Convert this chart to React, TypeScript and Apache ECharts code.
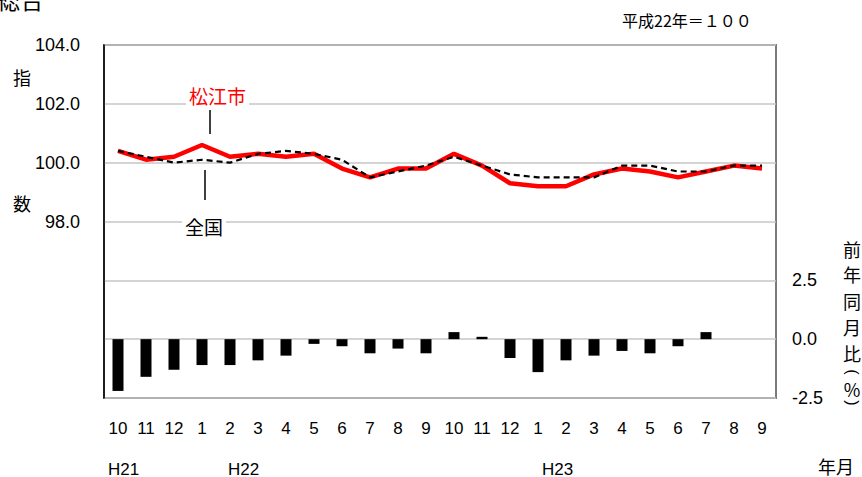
import React, { useEffect, useRef } from "react";
import * as echarts from "echarts";

const months = ["10", "11", "12", "1", "2", "3", "4", "5", "6", "7", "8", "9", "10", "11", "12", "1", "2", "3", "4", "5", "6", "7", "8", "9"];
const matsue = [100.4, 100.1, 100.2, 100.6, 100.2, 100.3, 100.2, 100.3, 99.8, 99.5, 99.8, 99.8, 100.3, 99.9, 99.3, 99.2, 99.2, 99.6, 99.8, 99.7, 99.5, 99.7, 99.9, 99.8];
const national = [100.4, 100.2, 100.0, 100.1, 100.0, 100.3, 100.4, 100.3, 100.1, 99.5, 99.7, 99.9, 100.2, 99.9, 99.6, 99.5, 99.5, 99.5, 99.9, 99.9, 99.7, 99.7, 99.9, 99.9];
const yoy = [-2.2, -1.6, -1.3, -1.1, -1.1, -0.9, -0.7, -0.2, -0.3, -0.6, -0.4, -0.6, 0.3, 0.1, -0.8, -1.4, -0.9, -0.7, -0.5, -0.6, -0.3, 0.3, null, null];
const eraLabels = [
  { text: "H21", x: 108 },
  { text: "H22", x: 228 },
  { text: "H23", x: 542 },
];
const rightNameChars = [
  { c: "前", y: 249, rot: 0 },
  { c: "年", y: 274, rot: 0 },
  { c: "同", y: 301, rot: 0 },
  { c: "月", y: 327, rot: 0 },
  { c: "比", y: 353, rot: 0 },
  { c: "(", y: 372, rot: -Math.PI / 2 },
  { c: "%", y: 389, rot: 0 },
  { c: ")", y: 403, rot: -Math.PI / 2 },
];

const FONT = "'Liberation Sans', Arial, 'Noto Sans CJK JP', sans-serif";
const JFONT = "'Noto Sans CJK JP', 'Liberation Sans', sans-serif";

export default function App() {
  const ref = useRef<HTMLDivElement>(null);
  useEffect(() => {
    if (!ref.current) return;
    const chart = echarts.init(ref.current, undefined, { renderer: "svg" });
    const graphic: any[] = [
      { type: "text", left: -4, top: -14, style: { text: "総合", font: `24px ${JFONT}`, fill: "#000" } },
      { type: "text", left: 622, top: 12, style: { text: "平成22年＝１００", font: `16px ${JFONT}`, fill: "#000" } },
      { type: "text", left: 13, top: 68, style: { text: "指", font: `18px ${JFONT}`, fill: "#000" } },
      { type: "text", left: 13, top: 194, style: { text: "数", font: `18px ${JFONT}`, fill: "#000" } },
      {
        type: "text", left: 186, top: 85, z: 10,
        style: { text: "松江市", font: `19px ${JFONT}`, fill: "#ff0000", backgroundColor: "#fff", padding: [1, 3] },
      },
      { type: "line", z: 10, shape: { x1: 210, y1: 110, x2: 210, y2: 134 }, style: { stroke: "#000", lineWidth: 1.5 } },
      {
        type: "text", left: 182, top: 216, z: 10,
        style: { text: "全国", font: `19px ${JFONT}`, fill: "#000", backgroundColor: "#fff", padding: [1, 3] },
      },
      { type: "line", z: 10, shape: { x1: 205, y1: 170, x2: 205, y2: 200 }, style: { stroke: "#000", lineWidth: 1.5 } },
      {
        type: "text", x: 818, y: 466,
        style: { text: "年月", font: `18px ${JFONT}`, fill: "#000", verticalAlign: "middle", lineHeight: 18 },
      },
      ...eraLabels.map((e) => ({
        type: "text", x: e.x, y: 469,
        style: { text: e.text, font: `17px ${FONT}`, fill: "#000", verticalAlign: "middle", lineHeight: 17 },
      })),
      ...rightNameChars.map((r) => ({
        type: "text", x: 852, y: r.y, rotation: r.rot,
        style: {
          text: r.c,
          font: r.rot ? `16px ${FONT}` : `18px ${JFONT}`,
          fill: "#000", align: "center", verticalAlign: "middle", lineHeight: 16,
        },
      })),
    ];
    chart.setOption({
      animation: false,
      backgroundColor: "#fff",
      grid: {
        left: 104, right: 86, top: 45, bottom: 79,
        show: true, borderColor: "#7a7a7a", borderWidth: 2, backgroundColor: "transparent",
      },
      xAxis: {
        type: "category",
        data: months,
        boundaryGap: true,
        axisLine: { show: false },
        axisTick: { show: false },
        axisLabel: { interval: 0, margin: 22, color: "#000", fontSize: 17, fontFamily: FONT },
      },
      yAxis: [
        {
          type: "value",
          min: 92, max: 104, interval: 2,
          axisLine: { show: true, lineStyle: { color: "#000", width: 1.5 } },
          axisTick: { show: false },
          splitLine: { show: true, lineStyle: { color: "#c6c6c6", width: 1.5 } },
          axisLabel: {
            margin: 24, color: "#000", fontSize: 18, fontFamily: FONT,
            formatter: (v: number) => (v >= 98 ? v.toFixed(1) : ""),
          },
        },
        {
          type: "value",
          min: -2.5, max: 12.5, interval: 2.5,
          position: "right",
          axisLine: { show: false },
          axisTick: { show: false },
          splitLine: { show: false },
          axisLabel: {
            margin: 16, color: "#000", fontSize: 18, fontFamily: FONT,
            formatter: (v: number) => (v <= 2.5 ? v.toFixed(1) : ""),
          },
        },
      ],
      series: [
        {
          name: "前年同月比",
          type: "bar",
          yAxisIndex: 1,
          data: yoy,
          barWidth: 11,
          itemStyle: { color: "#000" },
          z: 2,
        },
        {
          name: "松江市",
          type: "line",
          data: matsue,
          symbol: "none",
          lineStyle: { color: "#ff0000", width: 4.5 },
          z: 3,
        },
        {
          name: "全国",
          type: "line",
          data: national,
          symbol: "none",
          lineStyle: { color: "#000", width: 2.2, type: [6, 4] },
          z: 4,
        },
      ],
      graphic,
    });
    return () => chart.dispose();
  }, []);
  return <div ref={ref} style={{ position: "fixed", left: 0, top: 0, width: 862, height: 477 }} />;
}
